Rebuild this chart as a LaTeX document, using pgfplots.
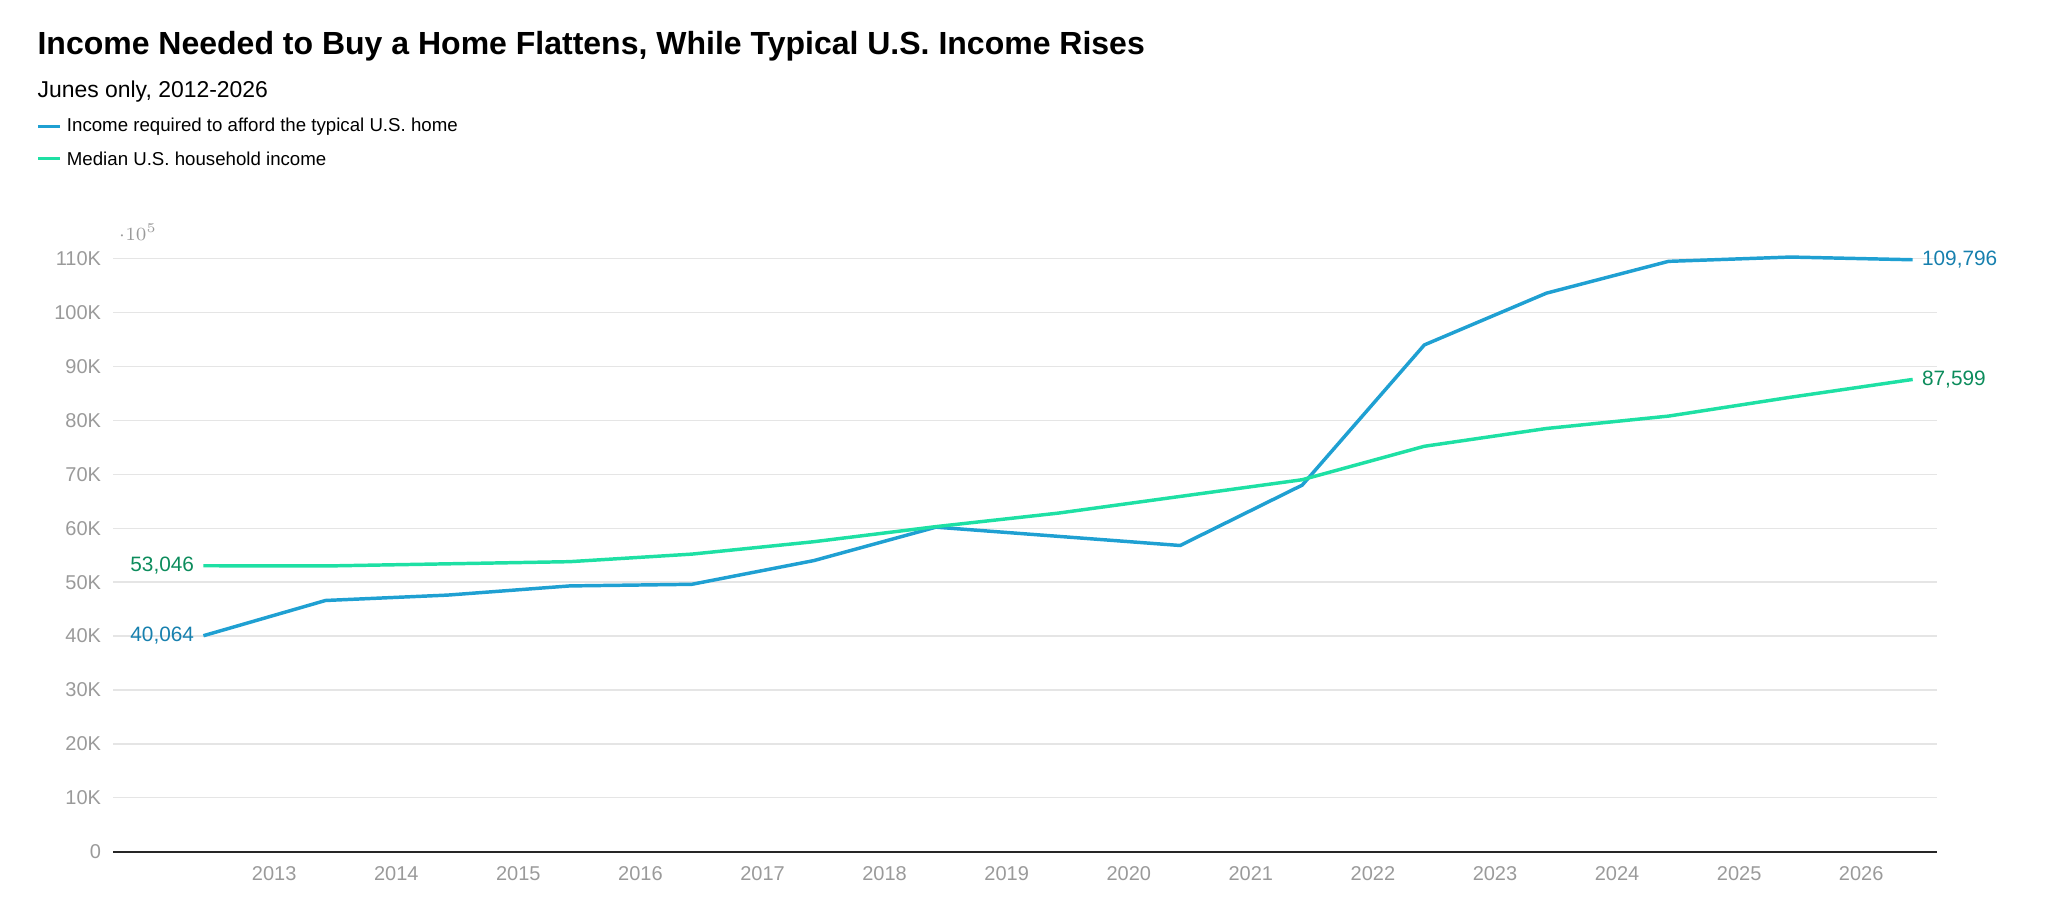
\documentclass[border=0pt]{standalone}
\usepackage{pgfplots}
\pgfplotsset{compat=1.18}
\usepackage{fontspec}
\setmainfont{Liberation Sans}
\definecolor{cblue}{HTML}{1FA0D2}
\definecolor{cbluet}{HTML}{1780AE}
\definecolor{cgreen}{HTML}{1EE0A4}
\definecolor{cgreent}{HTML}{0C8C5C}
\definecolor{tgray}{HTML}{9A9A9A}
\begin{document}
\begin{tikzpicture}
\useasboundingbox (-42.4pt,-26pt) rectangle (725.6pt,319.4pt);
\begin{axis}[at={(0,0)},anchor=south west,scale only axis,
 width=684pt,height=222.4pt,
 xmin=2011.68,xmax=2026.62,ymin=0,ymax=110000,
 xtick={2013,...,2026},xticklabel style={/pgf/number format/1000 sep={}},
 ytick={0,10000,...,110000},
 yticklabels={0,10K,20K,30K,40K,50K,60K,70K,80K,90K,100K,110K},
 ymajorgrids,grid style={color=black!10,line width=0.5pt},
 axis x line=bottom,axis y line=left,y axis line style={draw=none},
 x axis line style={-,black!85,line width=0.6pt},
 major tick length=0pt,
 ticklabel style={font=\fontsize{7.5}{9}\selectfont,text=tgray},
 /pgf/number format/assume math mode=true,
 xticklabel style={yshift=-2pt},
 yticklabel style={xshift=-1pt},
 clip=false]
\addplot[cblue,line width=1.3pt] coordinates {
(2012.42,40064)(2013.42,46600)(2014.42,47600)(2015.42,49300)(2016.42,49600)
(2017.42,54000)(2018.42,60200)(2019.42,58500)(2020.42,56800)(2021.42,68000)
(2022.42,94000)(2023.42,103600)(2024.42,109500)(2025.42,110300)(2026.42,109796)};
\addplot[cgreen,line width=1.3pt] coordinates {
(2012.42,53046)(2013.42,53000)(2014.42,53400)(2015.42,53800)(2016.42,55200)
(2017.42,57500)(2018.42,60300)(2019.42,62800)(2020.42,65900)(2021.42,69000)
(2022.42,75200)(2023.42,78500)(2024.42,80800)(2025.42,84300)(2026.42,87599)};
\node[anchor=east,text=cbluet,font=\fontsize{7.8}{9}\selectfont] at (axis cs:2012.42,40064) {40,064};
\node[anchor=east,text=cgreent,font=\fontsize{7.8}{9}\selectfont] at (axis cs:2012.42,53046) {53,046};
\node[anchor=west,text=cbluet,font=\fontsize{7.8}{9}\selectfont] at (axis cs:2026.42,109796) {109,796};
\node[anchor=west,text=cgreent,font=\fontsize{7.8}{9}\selectfont] at (axis cs:2026.42,87599) {87,599};
\end{axis}
\node[anchor=base west,font=\fontsize{12}{14}\selectfont\bfseries,inner sep=0pt] at (-28.5pt,299pt) {Income Needed to Buy a Home Flattens, While Typical U.S. Income Rises};
\node[anchor=base west,font=\fontsize{8.6}{11}\selectfont,inner sep=0pt] at (-28.5pt,283pt) {Junes only, 2012-2026};
\draw[cblue,line width=1.3pt] (-28pt,272pt) -- (-20pt,272pt);
\node[anchor=west,font=\fontsize{7}{9}\selectfont,inner sep=0pt] at (-17.5pt,272pt) {Income required to afford the typical U.S. home};
\draw[cgreen,line width=1.3pt] (-28pt,260pt) -- (-20pt,260pt);
\node[anchor=west,font=\fontsize{7}{9}\selectfont,inner sep=0pt] at (-17.5pt,260pt) {Median U.S. household income};
\end{tikzpicture}
\end{document}
